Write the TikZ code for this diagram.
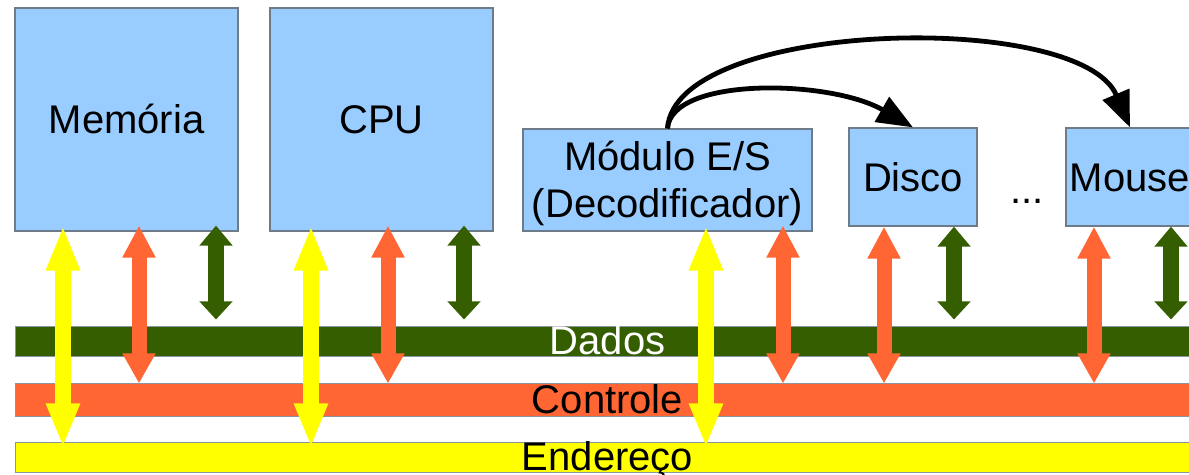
\documentclass[tikz,border=0pt]{standalone}
\usepackage{fontspec}
\setmainfont{Liberation Sans}
\usetikzlibrary{arrows.meta}

\definecolor{boxblue}{HTML}{99CCFF}
\definecolor{boxline}{HTML}{6E7B88}
\definecolor{dadosgreen}{HTML}{355E00}
\definecolor{ctrlorange}{HTML}{FF6633}
\definecolor{endyellow}{HTML}{FFFF00}

\tikzset{
  blk/.style={draw=boxline, fill=boxblue, line width=0.6pt, inner sep=0pt,
              text height=14.3pt, text depth=0pt},
  bus/.style={draw=boxline!80, line width=0.5pt, inner sep=0pt,
              minimum width=592.5pt, text height=13pt, text depth=0pt},
  addrarrow/.style={endyellow, line width=8pt,
              {Triangle[length=22.5pt, width=15.5pt]}-{Triangle[length=22pt, width=15.5pt]}},
  ctrlarrow/.style={ctrlorange, line width=7.5pt,
              {Triangle[length=16pt, width=15.5pt]}-{Triangle[length=15pt, width=15.5pt]}},
  dataarrow/.style={dadosgreen, line width=8pt,
              {Triangle[length=10pt, width=16pt]}-{Triangle[length=9pt, width=16pt]}},
  selarrow/.style={black, line width=2.4pt, -{Triangle[length=18pt, width=14pt]}}
}

\begin{document}
\begin{tikzpicture}[x=0.5pt, y=-0.5pt, font=\fontsize{20}{23.5}\selectfont]

    \useasboundingbox (0,0) rectangle (1189,475);
    \clip (0,0) rectangle (1189,475);

    % ── Boxes ────────────────────────────────────────────────────────────────
    \node[blk, minimum width=111.5pt, minimum height=111.5pt] (mem) at (126.5,119.5) {Memória};
    \node[blk, minimum width=111.5pt, minimum height=111.5pt] (cpu) at (381.5,119.5) {CPU};
    \node[blk, minimum width=144.5pt, minimum height=51pt, align=center,
          text height=37.8pt] (modulo) at (667.5,180) {Módulo E/S\\(Decodificador)};
    \node[blk, minimum width=64pt, minimum height=49pt] (disco) at (913,177) {Disco};
    \node[blk, minimum width=64pt, minimum height=49pt] (mouse) at (1130,177) {Mouse};
    \node[anchor=base, inner sep=0pt] (dots) at (1027,204) {...};

    % ── Buses ────────────────────────────────────────────────────────────────
    \node[bus, fill=dadosgreen, minimum height=15pt, text=white] (dados) at (607.5,342) {Dados};
    \node[bus, fill=ctrlorange, minimum height=16.5pt] (controle) at (607.5,400.5) {Controle};
    \node[bus, fill=endyellow, minimum height=15pt] (endereco) at (607.5,458) {Endereço};

    % ── Endereço arrows ──────────────────────────────────────────────────────
    \foreach \x/\b/\s in {63/mem/3, 311/cpu/3, 706/modulo/3}
        \draw[addrarrow] ([yshift=\s pt]\b.south -| \x,0) -- ([yshift=-2.5pt]endereco.north -| \x,0);

    % ── Controle arrows ──────────────────────────────────────────────────────
    \foreach \x/\b/\s in {139/mem/3, 388/cpu/3, 783/modulo/3, 884/disco/0, 1094/mouse/0}
        \draw[ctrlarrow] ([yshift=\s pt]\b.south -| \x,0) -- (controle.north -| \x,0);

    % ── Dados arrows ─────────────────────────────────────────────────────────
    \foreach \x/\b/\s in {216/mem/3, 464/cpu/3, 954/disco/0, 1171/mouse/0}
        \draw[dataarrow] ([yshift=\s pt]\b.south -| \x,0) -- ([yshift=3.5pt]dados.north -| \x,0);

    % ── Selection from the E/S module ────────────────────────────────────────
    \draw[selarrow] (modulo.north) .. controls +(4,-52) and +(-83,-48) .. (disco.north);
    \draw[selarrow] (modulo.north) .. controls +(7.5,-109) and +(-50,-118) .. (mouse.north);

\end{tikzpicture}
\end{document}
